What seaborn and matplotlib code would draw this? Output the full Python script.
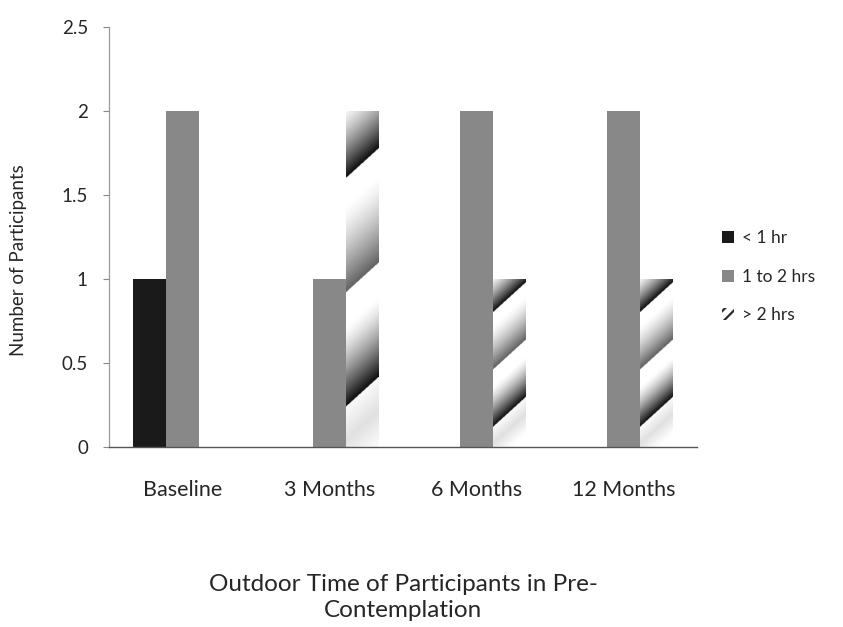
import matplotlib
matplotlib.use("Agg")
import matplotlib.pyplot as plt
from matplotlib.patches import Patch
import seaborn as sns
import pandas as pd
import numpy as np

categories = ["Baseline", "3 Months", "6 Months", "12 Months"]
series_names = ["< 1 hr", "1 to 2 hrs", "> 2 hrs"]
less_1hr = [1, 0, 0, 0]
one_to_two = [2, 1, 2, 2]
more_2hrs = [0, 2, 1, 1]
y_ticks = [0, 0.5, 1, 1.5, 2, 2.5]
y_tick_labels = ["0", "0.5", "1", "1.5", "2", "2.5"]

rows = []
for name, vals in zip(series_names, [less_1hr, one_to_two, more_2hrs]):
    for c, v in zip(categories, vals):
        rows.append({"Period": c, "Series": name, "Value": v})
df = pd.DataFrame(rows)

sns.set_theme(style="white")
plt.rcParams["font.family"] = ["Lato", "DejaVu Sans"]
plt.rcParams["hatch.linewidth"] = 1.6
plt.rcParams["hatch.color"] = "#2a2a2a"

fig = plt.figure(figsize=(8.43, 6.27), dpi=100)
ax = fig.add_axes([0.129, 0.287, 0.698, 0.670])

colors = {"< 1 hr": "#1a1a1a", "1 to 2 hrs": "#888888", "> 2 hrs": "#ffffff"}
sns.barplot(data=df, x="Period", y="Value", hue="Series", order=categories,
            hue_order=series_names, palette=colors, width=0.67, ax=ax,
            saturation=1, edgecolor="none", linewidth=0, legend=False)

ax.set_ylim(0, 2.5)
ax.set_xlim(-0.5, 3.5)

# striped (sawtooth gradient) fill for the "> 2 hrs" bars -- purely decorative
def profile(s):
    d = 0.12 * np.clip(1 - np.abs(s - 0.02) / 0.12, 0, 1)
    for e, amp, fade in [(0.12, 0.95, 0.24), (0.46, 0.62, 0.26), (0.80, 0.95, 0.22)]:
        t = (s - e) / fade
        m = (t >= 0) & (t <= 1)
        val = np.zeros_like(s)
        val[m] = amp * (1 - t[m]) ** 1.4
        d = np.maximum(d, val)
    return np.clip(d, 0, 1)

fig.canvas.draw()
for bar in ax.containers[2]:
    x0, y0 = bar.get_x(), bar.get_y()
    w, h = bar.get_width(), bar.get_height()
    if h <= 0:
        continue
    p0 = ax.transData.transform((x0, y0))
    p1 = ax.transData.transform((x0 + w, y0 + h))
    wpx, hpx = p1[0] - p0[0], p1[1] - p0[1]
    ny, nx = 400, 80
    u = np.linspace(0, 1, nx)[None, :]
    v = np.linspace(0, 1, ny)[:, None]
    s = v - (u * wpx * 0.9) / hpx
    img = profile(s)
    im = ax.imshow(img, cmap="gray_r", vmin=0, vmax=1, origin="lower",
                   extent=(x0, x0 + w, y0, y0 + h), aspect="auto",
                   interpolation="bilinear", zorder=bar.get_zorder() + 0.1)
    im.set_clip_path(bar)

ax.set_xlim(-0.5, 3.5)
ax.set_ylim(0, 2.5)
ax.set_aspect("auto")
ax.set_yticks(y_ticks)
ax.set_yticklabels(y_tick_labels, fontsize=13.5)
ax.tick_params(axis="x", labelsize=15.5, length=0, pad=24)
ax.tick_params(axis="y", left=True, length=4, width=0.8, color="#888888", pad=11)
ax.set_xlabel("Outdoor Time of Participants in Pre-\nContemplation", fontsize=17.5,
              linespacing=1.3)
ax.xaxis.set_label_coords(0.5, -0.303)
ax.set_ylabel("Number of Participants", fontsize=13.5)
ax.yaxis.set_label_coords(-0.139, 0.445)

for s in ["top", "right"]:
    ax.spines[s].set_visible(False)
ax.spines["left"].set_color("#9a9a9a")
ax.spines["left"].set_linewidth(0.9)
ax.spines["bottom"].set_color("#555555")
ax.spines["bottom"].set_linewidth(1.0)

handles = [Patch(facecolor="#1a1a1a", edgecolor="none"),
           Patch(facecolor="#888888", edgecolor="none"),
           Patch(facecolor="#ffffff", edgecolor="#2a2a2a", hatch="///", linewidth=0)]
ax.legend(handles, series_names, loc="center left", bbox_to_anchor=(1.03, 0.405),
          borderaxespad=0, frameon=False, fontsize=12.5, handlelength=0.7,
          handleheight=0.7, labelspacing=1.3, handletextpad=0.45)

fig.savefig("out.png", dpi=100)
